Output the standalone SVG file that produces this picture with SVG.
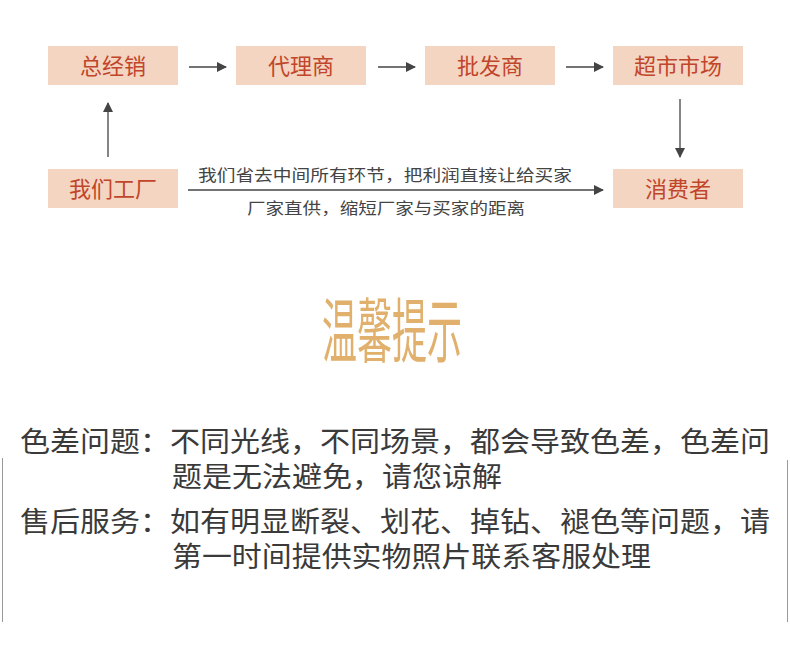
<svg xmlns="http://www.w3.org/2000/svg" width="790" height="659" viewBox="0 0 790 659">
<defs>
<style>
.box{fill:#f4d5c1}
.bt{font-family:"Noto Sans CJK SC",sans-serif;font-size:22px;fill:#c1452b;text-anchor:middle}
.ln{stroke:#444;stroke-width:1.3;fill:none}
.sm{font-family:"Noto Sans CJK SC",sans-serif;font-size:16px;fill:#444}
.tip{font-family:"Noto Sans CJK SC",sans-serif;font-size:28px;fill:#3a3a3a}
</style>
<marker id="ah" viewBox="0 0 10 10" refX="9" refY="5" markerWidth="10" markerHeight="10" markerUnits="userSpaceOnUse" orient="auto">
<path d="M0,0 L10,5 L0,10 Z" fill="#444"/>
</marker>
</defs>
<rect width="790" height="659" fill="#fff"/>
<g id="n1"><rect class="box" x="48" y="46" width="130" height="39"/><text class="bt" x="113" y="74">总经销</text></g>
<g id="n2"><rect class="box" x="236" y="46" width="130" height="39"/><text class="bt" x="301" y="74">代理商</text></g>
<g id="n3"><rect class="box" x="425" y="46" width="130" height="39"/><text class="bt" x="490" y="74">批发商</text></g>
<g id="n4"><rect class="box" x="613" y="46" width="130" height="39"/><text class="bt" x="678" y="74">超市市场</text></g>
<g id="n5"><rect class="box" x="48" y="169" width="130" height="39"/><text class="bt" x="113" y="197">我们工厂</text></g>
<g id="n6"><rect class="box" x="613" y="169" width="130" height="39"/><text class="bt" x="678" y="197">消费者</text></g>
<g id="connectors">
<line class="ln" x1="189" y1="67" x2="226" y2="67" marker-end="url(#ah)"/>
<line class="ln" x1="378" y1="67" x2="415" y2="67" marker-end="url(#ah)"/>
<line class="ln" x1="566" y1="67" x2="603" y2="67" marker-end="url(#ah)"/>
<line class="ln" x1="108" y1="157" x2="108" y2="103" marker-end="url(#ah)"/>
<line class="ln" x1="680" y1="99" x2="680" y2="157" marker-end="url(#ah)"/>
<line class="ln" x1="188" y1="190" x2="603" y2="190" marker-end="url(#ah)"/>
<text class="sm" x="198" y="181" textLength="374" lengthAdjust="spacingAndGlyphs">我们省去中间所有环节，把利润直接让给买家</text>
<text class="sm" x="247" y="214" textLength="278" lengthAdjust="spacingAndGlyphs">厂家直供，缩短厂家与买家的距离</text>
</g>
<text x="0" y="0" transform="translate(392,357) scale(1,2)" font-family="Noto Sans CJK SC,sans-serif" font-size="35" fill="#e0b06c" text-anchor="middle" textLength="140" lengthAdjust="spacingAndGlyphs">温馨提示</text>
<line x1="2.5" y1="458" x2="2.5" y2="622" stroke="#999" stroke-width="1"/>
<line x1="787.5" y1="460" x2="787.5" y2="622" stroke="#999" stroke-width="1"/>
<text class="tip" x="20" y="452" textLength="750" lengthAdjust="spacingAndGlyphs">色差问题：不同光线，不同场景，都会导致色差，色差问</text>
<text class="tip" x="172" y="487" textLength="330" lengthAdjust="spacingAndGlyphs">题是无法避免，请您谅解</text>
<text class="tip" x="20" y="532" textLength="750" lengthAdjust="spacingAndGlyphs">售后服务：如有明显断裂、划花、掉钻、褪色等问题，请</text>
<text class="tip" x="172" y="567" textLength="479" lengthAdjust="spacingAndGlyphs">第一时间提供实物照片联系客服处理</text>
</svg>
